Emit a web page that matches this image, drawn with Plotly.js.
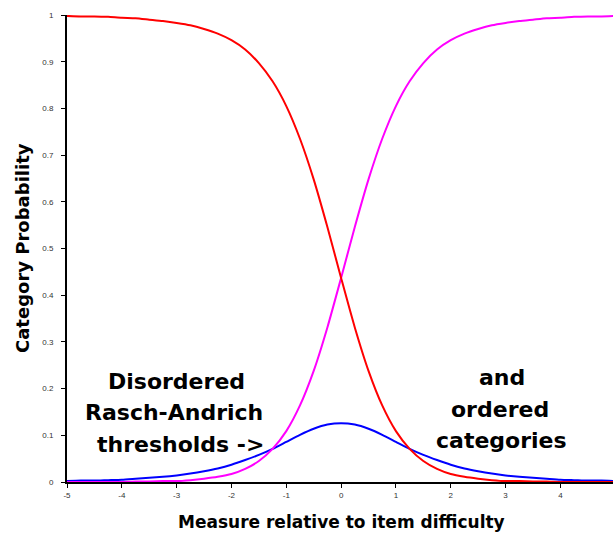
<!DOCTYPE html>
<html>
<head>
<meta charset="utf-8">
<script src="https://cdn.plot.ly/plotly-3.0.1.min.js"></script>
<style>html,body{margin:0;padding:0;background:#fff;}#chart{width:613px;height:537px;}</style>
</head>
<body>
<div id="chart"></div>
<script>
var measures = [-5,-4.75,-4.5,-4.25,-4,-3.75,-3.5,-3.25,-3,-2.75,-2.5,-2.25,-2,-1.75,-1.5,-1.25,-1,-0.75,-0.5,-0.25,0,
                0.25,0.5,0.75,1,1.25,1.5,1.75,2,2.25,2.5,2.75,3,3.25,3.5,3.75,4,4.25,4.5,4.75,5];
var category0 = [0.998,0.997,0.997,0.996,0.994,0.993,0.990,0.987,0.983,0.978,0.970,0.960,0.946,0.926,0.897,0.858,0.805,0.735,0.648,0.546,0.437,
                 0.331,0.238,0.164,0.109,0.071,0.045,0.028,0.017,0.011,0.007,0.004,0.002,0.002,0.001,0.001,0.000,0.000,0.000,0.000,0.000];
var category1 = [0.002,0.003,0.003,0.004,0.005,0.007,0.009,0.011,0.014,0.018,0.023,0.029,0.037,0.047,0.058,0.071,0.086,0.101,0.114,0.123,0.126,
                 0.123,0.114,0.101,0.086,0.071,0.058,0.047,0.037,0.029,0.023,0.018,0.014,0.011,0.009,0.007,0.005,0.004,0.003,0.003,0.002];
var category2 = [0.000,0.000,0.000,0.000,0.000,0.001,0.001,0.002,0.002,0.004,0.007,0.011,0.017,0.028,0.045,0.071,0.109,0.164,0.238,0.331,0.437,
                 0.546,0.648,0.735,0.805,0.858,0.897,0.926,0.946,0.960,0.970,0.978,0.983,0.987,0.990,0.993,0.994,0.996,0.997,0.997,0.998];
var xTicks = [-5,-4,-3,-2,-1,0,1,2,3,4,5];
var yTicks = [0,0.1,0.2,0.3,0.4,0.5,0.6,0.7,0.8,0.9,1];
var leftNote = ["Disordered","Rasch-Andrich","thresholds ->"];
var rightNote = ["and","ordered","categories"];

function line(y, color){
  return {x: measures, y: y, type: 'scatter', mode: 'lines', line: {color: color, width: 2, shape: 'spline', smoothing: 0.6}, hoverinfo: 'skip'};
}
var data = [line(category1,'#0000ff'), line(category2,'#ff00ff'), line(category0,'#ff0000')];

var W = 613, H = 537, L = 67, R = 0, T = 15, B = 55;
var pw = W - L - R, ph = H - T - B;
function px(x){ return (x - L) / pw; }
function py(y){ return (H - B - y) / ph; }
var noteFont = {family: 'DejaVu Sans', size: 22, color: '#000'};
var ann = [];
var lx = [176,174,180], ly = [381,412,444];
leftNote.forEach(function(t,i){ ann.push({xref:'paper',yref:'paper',x:px(lx[i]),y:py(ly[i]),xanchor:'center',yanchor:'middle',showarrow:false,text:'<b>'+t+'</b>',font:noteFont}); });
var rx = [502,500,502], ry = [377,409,440];
rightNote.forEach(function(t,i){ ann.push({xref:'paper',yref:'paper',x:px(rx[i]),y:py(ry[i]),xanchor:'center',yanchor:'middle',showarrow:false,text:'<b>'+t+'</b>',font:noteFont}); });
ann.push({xref:'paper',yref:'paper',x:px(341),y:py(522),xanchor:'center',yanchor:'middle',showarrow:false,
  text:'<b>Measure relative to item difficulty</b>',font:{family:'DejaVu Sans',size:17,color:'#000'}});
ann.push({xref:'paper',yref:'paper',x:px(22),y:py(248),xanchor:'center',yanchor:'middle',showarrow:false,textangle:-90,
  text:'<b>Category Probability</b>',font:{family:'DejaVu Sans',size:18,color:'#000'}});

var layout = {
  width: W, height: H,
  margin: {l: L, r: R, t: T, b: B, pad: 0},
  paper_bgcolor: '#fff', plot_bgcolor: '#fff',
  showlegend: false,
  xaxis: {range: [-5, 4.96], tickvals: xTicks, ticktext: xTicks.map(String), showgrid: false, zeroline: false,
          showline: true, linecolor: '#000', linewidth: 2, ticks: 'outside', ticklen: 4, tickcolor: '#000', tickwidth: 1,
          tickfont: {family: 'Liberation Sans', size: 8, color: '#333'}, fixedrange: true},
  yaxis: {range: [0, 1], tickvals: yTicks, ticktext: yTicks.map(String), showgrid: false, zeroline: false,
          showline: true, linecolor: '#000', linewidth: 2, ticks: 'outside', ticklen: 4, tickcolor: '#000', tickwidth: 1,
          ticklabelstandoff: 6,
          tickfont: {family: 'Liberation Sans', size: 8, color: '#333'}, fixedrange: true},
  annotations: ann
};
Plotly.newPlot('chart', data, layout, {staticPlot: true, displayModeBar: false});
</script>
</body>
</html>
